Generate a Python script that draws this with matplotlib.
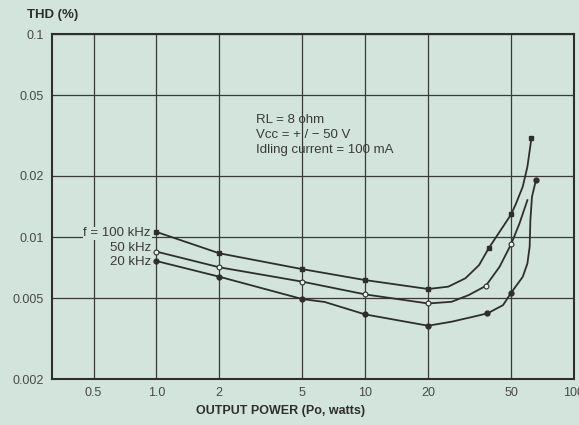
import matplotlib
matplotlib.use("Agg")
import matplotlib.pyplot as plt

plt.rcParams['font.family'] = ['Liberation Sans', 'DejaVu Sans']

bg = '#d2e4dc'
ink = '#2e2e2e'
txt = '#3a3a3a'

# THD vs output power
p_100k = [1.0, 2.0, 5.0, 10, 20, 25, 30.2, 35.1, 39.0, 50, 52.8, 56.8, 59.8, 62.5]
thd_100k = [0.0106, 0.00832, 0.00695, 0.00614, 0.00555, 0.0057, 0.00627, 0.00728,
            0.0088, 0.01294, 0.01466, 0.0177, 0.0222, 0.0306]
mk_p_100k = [1.0, 2.0, 5.0, 10, 20, 39.0, 50, 62.5]
mk_thd_100k = [0.0106, 0.00832, 0.00695, 0.00614, 0.00555, 0.0088, 0.01294, 0.0306]

p_50k = [1.0, 2.0, 5.0, 10, 20, 25.9, 31.3, 37.8, 44, 50, 54.8, 59.8]
thd_50k = [0.00848, 0.0071, 0.00603, 0.00522, 0.00471, 0.0048, 0.00518, 0.00575,
           0.00714, 0.00924, 0.01167, 0.0152]
mk_p_50k = [1.0, 2.0, 5.0, 10, 20, 37.8, 50]
mk_thd_50k = [0.00848, 0.0071, 0.00603, 0.00522, 0.00471, 0.00575, 0.00924]

p_20k = [1.0, 2.0, 5.0, 6.4, 10, 20, 25.9, 32.5, 38.5, 45.7, 50, 56.8, 59.8, 61.3,
         61.8, 62.9, 65.8]
thd_20k = [0.00762, 0.00638, 0.00495, 0.00479, 0.00416, 0.00366, 0.00383, 0.00404,
           0.00421, 0.00462, 0.00532, 0.00637, 0.00741, 0.00895, 0.01213, 0.0158, 0.0192]
mk_p_20k = [1.0, 2.0, 5.0, 10, 20, 38.5, 50, 65.8]
mk_thd_20k = [0.00762, 0.00638, 0.00495, 0.00416, 0.00366, 0.00421, 0.00532, 0.0192]

x_ticks = [0.5, 1.0, 2, 5, 10, 20, 50, 100]
x_labels = ['0.5', '1.0', '2', '5', '10', '20', '50', '100']
y_ticks = [0.002, 0.005, 0.01, 0.02, 0.05, 0.1]
y_labels = ['0.002', '0.005', '0.01', '0.02', '0.05', '0.1']

fig = plt.figure(figsize=(5.79, 4.25), dpi=100, facecolor=bg)
ax = fig.add_axes([0.0898, 0.1082, 0.9016, 0.8118], facecolor=bg)

ax.set_xscale('log')
ax.set_yscale('log')
ax.set_xlim(0.316, 100)
ax.set_ylim(0.002, 0.1)

ax.set_xticks(x_ticks)
ax.set_xticklabels(x_labels)
ax.set_yticks(y_ticks)
ax.set_yticklabels(y_labels)
ax.minorticks_off()
ax.tick_params(length=0, labelsize=9, labelcolor='#4a4a4a', pad=6)
ax.grid(True, color='#3a3a3a', lw=0.9)
ax.set_axisbelow(True)
for s in ax.spines.values():
    s.set_color(ink)
    s.set_linewidth(1.5)

ax.plot(p_100k, thd_100k, color=ink, lw=1.3)
ax.plot(mk_p_100k, mk_thd_100k, ls='none', marker='s', ms=3, color=ink)
ax.plot(p_50k, thd_50k, color=ink, lw=1.3)
ax.plot(mk_p_50k, mk_thd_50k, ls='none', marker='o', ms=3.5, mfc='#eef4f0', mec=ink, mew=0.8)
ax.plot(p_20k, thd_20k, color=ink, lw=1.3)
ax.plot(mk_p_20k, mk_thd_20k, ls='none', marker='o', ms=3.5, color=ink)

lab_kw = dict(textcoords='offset points', ha='right', va='center', fontsize=9.5, color=txt)
ax.annotate('f = 100 kHz', (1.0, mk_thd_100k[0]), xytext=(-4, -1),
            bbox=dict(fc=bg, ec='none', pad=0.5), **lab_kw)
ax.annotate('50 kHz', (1.0, mk_thd_50k[0]), xytext=(-4, 2.5), **lab_kw)
ax.annotate('20 kHz', (1.0, mk_thd_20k[0]), xytext=(-4, -1), **lab_kw)

ax.text(3.0, 0.0405, 'RL = 8 ohm\nVcc = + / \u2212 50 V\nIdling current = 100 mA',
        fontsize=9.5, color=txt, va='top', ha='left', linespacing=1.35)

fig.text(0.047, 0.965, 'THD (%)', fontsize=9.5, fontweight='bold', color=ink, va='center')
fig.text(0.484, 0.033, 'OUTPUT POWER (Po, watts)', fontsize=9, fontweight='bold',
         color=ink, ha='center', va='center')

fig.savefig('out.png', dpi=100, facecolor=bg)
